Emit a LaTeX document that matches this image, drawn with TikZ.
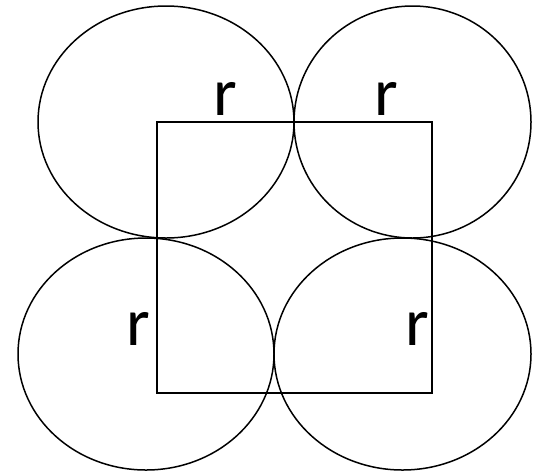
\documentclass[tikz,border=0pt]{standalone}
\usepackage{fontspec}
\setmainfont{Carlito}
\begin{document}
\begin{tikzpicture}[x=1pt,y=-1pt,
  shape line/.style={draw=black,line width=1.5pt},
  rlabel/.style={inner sep=0pt,anchor=base,font=\fontsize{68}{68}\selectfont}]
\useasboundingbox (0,0) rectangle (535,475);
\draw[shape line] (166,122) ellipse [x radius=128,y radius=116];
\draw[shape line] (412.5,122) ellipse [x radius=118.5,y radius=116];
\draw[shape line] (146,354) ellipse [x radius=128,y radius=116];
\draw[shape line] (402.5,354) ellipse [x radius=128.5,y radius=116];
\draw[shape line] (157,122) rectangle (432,393);
\node[rlabel] (r1) at (225,115) {r};
\node[rlabel] (r2) at (386,115) {r};
\node[rlabel] (r3) at (138,345) {r};
\node[rlabel] (r4) at (417,345) {r};
\end{tikzpicture}
\end{document}
